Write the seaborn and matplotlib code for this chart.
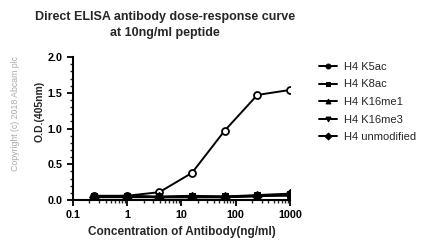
import matplotlib
matplotlib.use("Agg")
import matplotlib.pyplot as plt
import seaborn as sns
import pandas as pd
import numpy as np
from matplotlib.ticker import LogLocator, MultipleLocator, FixedLocator, FixedFormatter

conc = [0.24, 0.98, 3.9, 15.6, 62.5, 250, 1000]
k5ac = [0.05, 0.06, 0.11, 0.38, 0.97, 1.47, 1.54]
k8ac = [0.06, 0.06, 0.05, 0.06, 0.05, 0.07, 0.09]
k16me1 = [0.04, 0.05, 0.04, 0.04, 0.04, 0.06, 0.07]
k16me3 = [0.05, 0.05, 0.04, 0.05, 0.05, 0.06, 0.06]
unmod = [0.04, 0.04, 0.04, 0.04, 0.04, 0.05, 0.08]
names = ["H4 K5ac", "H4 K8ac", "H4 K16me1", "H4 K16me3", "H4 unmodified"]
xticks = [0.1, 1, 10, 100, 1000]
xticklabels = ["0.1", "1", "10", "100", "1000"]
yticks = [0.0, 0.5, 1.0, 1.5, 2.0]

rows = []
for n, vals in zip(names, [k5ac, k8ac, k16me1, k16me3, unmod]):
    for c, v in zip(conc, vals):
        rows.append({"conc": c, "od": v, "series": n})
df = pd.DataFrame(rows)

sns.set_style("ticks")
plt.rcParams['font.family'] = ['Liberation Sans', 'DejaVu Sans']

fig = plt.figure(figsize=(4.29, 2.47), dpi=100)
ax = fig.add_axes([0.170, 0.190, 0.506, 0.579])

markers = {"H4 K5ac": "o", "H4 K8ac": "s", "H4 K16me1": "^", "H4 K16me3": "v", "H4 unmodified": "D"}
palette = {n: "black" for n in names}
sns.lineplot(data=df, x="conc", y="od", hue="series", style="series",
             markers=markers, dashes=False, palette=palette, ax=ax,
             markersize=5, linewidth=1.4, markeredgecolor="black", legend=True)

# first series (K5ac) drawn with open circles
data_lines = [l for l in ax.lines if len(l.get_xdata()) == len(conc)]
if data_lines:
    data_lines[0].set_markerfacecolor("white")
    data_lines[0].set_markeredgewidth(1.3)

ax.set_xscale("log")
ax.set_xlim(0.1, 1000)
ax.set_ylim(0, 2.0)
ax.xaxis.set_major_locator(FixedLocator(xticks))
ax.xaxis.set_major_formatter(FixedFormatter(xticklabels))
ax.xaxis.set_minor_locator(LogLocator(base=10, subs=np.arange(2, 10)))
ax.set_yticks(yticks)
ax.set_yticklabels([f"{t:.1f}" for t in yticks])
ax.yaxis.set_minor_locator(MultipleLocator(0.1))
for s in ["top", "right"]:
    ax.spines[s].set_visible(False)
for s in ["left", "bottom"]:
    ax.spines[s].set_linewidth(1.5)
    ax.spines[s].set_color("black")
ax.tick_params(axis="both", which="major", length=4, width=1.3, labelsize=7.8, colors="black")
ax.tick_params(axis="both", which="minor", length=2, width=1.0)
for lab in ax.get_xticklabels() + ax.get_yticklabels():
    lab.set_fontweight("bold")

ax.set_xlabel("Concentration of Antibody(ng/ml)", fontsize=8.5, fontweight="bold", labelpad=4)
ax.set_ylabel("O.D.(405nm)", fontsize=7.5, fontweight="bold", labelpad=5)
ax.yaxis.set_label_coords(-0.13, 0.62)

fig.text(0.385, 0.90, "Direct ELISA antibody dose-response curve\nat 10ng/ml peptide",
         ha="center", va="center", fontsize=9, fontweight="bold", linespacing=1.45)

handles, labels = ax.get_legend_handles_labels()
ax.legend(handles, labels, loc="upper left", bbox_to_anchor=(0.72, 0.79),
          bbox_transform=fig.transFigure, frameon=False, fontsize=8,
          handlelength=1.6, labelspacing=0.68, handletextpad=0.7, markerscale=0.7)

fig.text(0.035, 0.54, "Copyright (c) 2018 Abcam plc", rotation=90, ha="center", va="center",
         fontsize=6.3, color="#aaaaaa")

fig.savefig("out.png", dpi=100)
